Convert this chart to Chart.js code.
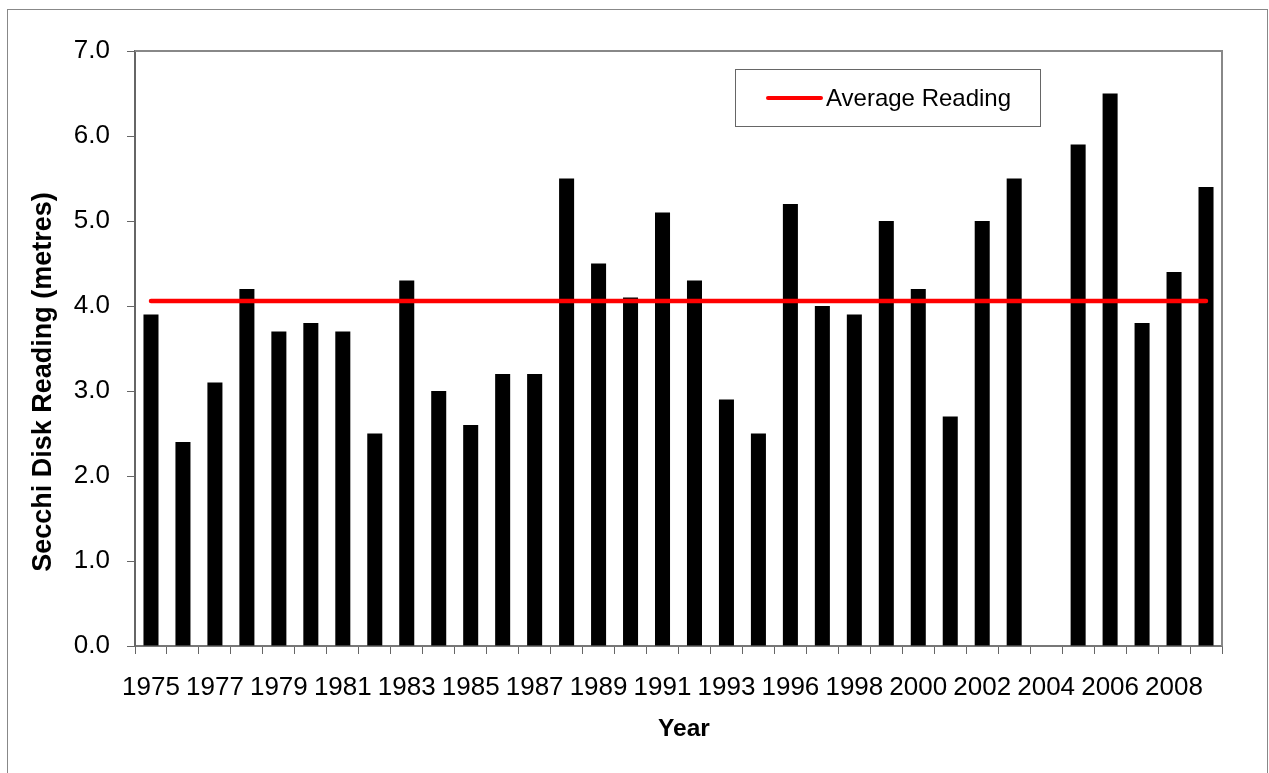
<!DOCTYPE html>
<html>
<head>
<meta charset="utf-8">
<script src="https://cdn.jsdelivr.net/npm/chart.js@4/dist/chart.umd.min.js"></script>
<style>
	html, body { margin: 0; padding: 0; background: #fff; overflow: hidden; }
	#wrap { position: relative; width: 1269px; height: 773px; }
	#frame { position: absolute; left: 7px; top: 9px; width: 1259px; height: 800px; border: 1px solid #888; pointer-events: none; }
</style>
</head>
<body>
<div id="wrap">
	<canvas id="secchiChart" width="1269" height="773"></canvas>
	<div id="frame"></div>
</div>
<script>
const years = ['1975', '1976', '1977', '1978', '1979', '1980', '1981', '1982', '1983', '1984',
	'1985', '1986', '1987', '1988', '1989', '1990', '1991', '1992', '1993', '1994',
	'1996', '1997', '1998', '1999', '2000', '2001', '2002', '2003', '2004', '2005',
	'2006', '2007', '2008', '2009'];
const secchiReadings = [3.9, 2.4, 3.1, 4.2, 3.7, 3.8, 3.7, 2.5, 4.3, 3.0,
	2.6, 3.2, 3.2, 5.5, 4.5, 4.1, 5.1, 4.3, 2.9, 2.5,
	5.2, 4.0, 3.9, 5.0, 4.2, 2.7, 5.0, 5.5, null, 5.9,
	6.5, 3.8, 4.4, 5.4];
const averageReading = 4.06;
const yTicks = [0, 1, 2, 3, 4, 5, 6, 7];

const FONT = 'Liberation Sans, Arial, sans-serif';

// plot frame, axis titles and boxed legend like the spreadsheet original
const framePlugin = {
	id: 'framePlugin',
	afterDraw(chart) {
		const {ctx, chartArea} = chart;
		ctx.save();
		ctx.strokeStyle = '#888';
		ctx.lineWidth = 2;
		ctx.beginPath();
		ctx.moveTo(chartArea.left, chartArea.top);
		ctx.lineTo(chartArea.right, chartArea.top);
		ctx.lineTo(chartArea.right, chartArea.bottom);
		ctx.stroke();

		// axis titles
		ctx.fillStyle = '#000';
		ctx.textAlign = 'center';
		ctx.textBaseline = 'middle';
		ctx.font = 'bold 24.5px ' + FONT;
		ctx.fillText('Year', 684, 729);
		ctx.save();
		ctx.translate(44, 382);
		ctx.rotate(-Math.PI / 2);
		ctx.font = 'bold 27px ' + FONT;
		ctx.fillText('Secchi Disk Reading (metres)', 0, 0);
		ctx.restore();

		// legend
		const lx = 735, ly = 69, lw = 305, lh = 57;
		ctx.fillStyle = '#fff';
		ctx.fillRect(lx, ly, lw, lh);
		ctx.strokeStyle = '#666';
		ctx.lineWidth = 1;
		ctx.strokeRect(lx + 0.5, ly + 0.5, lw, lh);
		ctx.strokeStyle = '#ff0000';
		ctx.lineWidth = 4;
		ctx.lineCap = 'round';
		ctx.beginPath();
		ctx.moveTo(lx + 33, ly + 29);
		ctx.lineTo(lx + 86, ly + 29);
		ctx.stroke();
		ctx.fillStyle = '#000';
		ctx.font = '24px ' + FONT;
		ctx.textAlign = 'left';
		ctx.fillText(chart.data.datasets[0].label, lx + 91, ly + 30);
		ctx.restore();
	}
};

new Chart(document.getElementById('secchiChart'), {
	data: {
		labels: years,
		datasets: [{
			type: 'line',
			label: 'Average Reading',
			data: years.map(() => averageReading),
			borderColor: '#ff0000',
			borderWidth: 4.5,
			borderCapStyle: 'round',
			pointRadius: 0,
			fill: false
		}, {
			type: 'bar',
			label: 'Secchi Disk Reading',
			data: secchiReadings,
			backgroundColor: '#000',
			borderWidth: 0,
			categoryPercentage: 1.0,
			barPercentage: 0.47
		}]
	},
	options: {
		responsive: false,
		animation: false,
		layout: { padding: { left: 25, right: 47, top: 51, bottom: 25 } },
		plugins: {
			legend: { display: false },
			tooltip: { enabled: false }
		},
		scales: {
			x: {
				offset: true,
				grid: { offset: true, drawOnChartArea: false, drawTicks: true, tickLength: 8, color: '#666', tickColor: '#666' },
				border: { color: '#777', width: 2 },
				ticks: {
					autoSkip: false,
					maxRotation: 0,
					padding: 18,
					color: '#000',
					font: { family: FONT, size: 26 },
					callback: function(val, idx) { return idx % 2 === 0 ? this.getLabelForValue(val) : ''; }
				},
				afterFit: (scale) => { scale.height = 102; }
			},
			y: {
				min: yTicks[0],
				max: yTicks[yTicks.length - 1],
				afterBuildTicks: (scale) => { scale.ticks = yTicks.map(v => ({ value: v })); },
				grid: { drawOnChartArea: false, drawTicks: true, tickLength: 8, color: '#666', tickColor: '#666' },
				border: { color: '#666', width: 2 },
				ticks: {
					padding: 17,
					color: '#000',
					font: { family: FONT, size: 26 },
					callback: (v) => v.toFixed(1)
				},
				afterFit: (scale) => { scale.width = 110; }
			}
		}
	},
	plugins: [framePlugin]
});
</script>
</body>
</html>
